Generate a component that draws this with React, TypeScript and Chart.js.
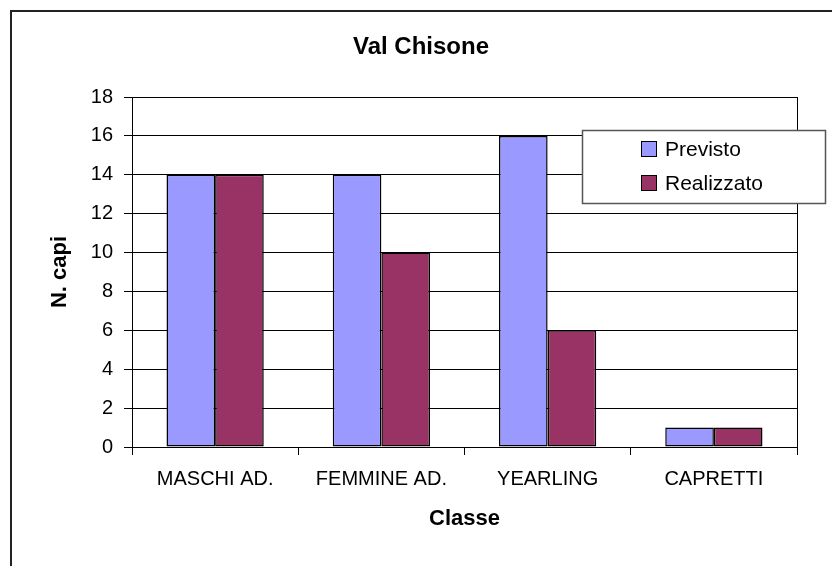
import React, { useEffect, useRef } from "react";
import { Chart, registerables } from "chart.js";

Chart.register(...registerables);

// ---- data ----
const categories = ["MASCHI AD.", "FEMMINE AD.", "YEARLING", "CAPRETTI"];
const previsto = [14, 14, 16, 1];
const realizzato = [14, 10, 6, 1];
const seriesLabels = ["Previsto", "Realizzato"];
const seriesColors = ["#9999FF", "#993366"];
const yMin = 0;
const yMax = 18;
const yStep = 2;
const chartTitle = "Val Chisone";
const xAxisTitle = "Classe";
const yAxisTitle = "N. capi";

const FONT = '"Liberation Sans", Arial, Helvetica, sans-serif';

export default function App() {
  const ref = useRef<HTMLCanvasElement | null>(null);

  useEffect(() => {
    if (!ref.current) return;

    const decor = {
      id: "decor",
      beforeDraw(chart: any) {
        const ctx = chart.ctx;
        ctx.save();
        ctx.fillStyle = "#ffffff";
        ctx.fillRect(0, 0, chart.width, chart.height);
        // outer chart frame (left + top)
        ctx.strokeStyle = "#222222";
        ctx.lineWidth = 2;
        ctx.beginPath();
        ctx.moveTo(11, chart.height);
        ctx.lineTo(11, 11);
        ctx.lineTo(chart.width, 11);
        ctx.stroke();
        ctx.restore();
      },
      afterDraw(chart: any) {
        const ctx = chart.ctx;
        const a = chart.chartArea;
        ctx.save();
        // plot area right border
        ctx.strokeStyle = "#000000";
        ctx.lineWidth = 1;
        ctx.beginPath();
        ctx.moveTo(Math.round(a.right) + 0.5, a.top);
        ctx.lineTo(Math.round(a.right) + 0.5, a.bottom);
        ctx.stroke();

        // title
        ctx.fillStyle = "#000000";
        ctx.textAlign = "center";
        ctx.textBaseline = "middle";
        ctx.font = `bold 24px ${FONT}`;
        ctx.fillText(chartTitle, 421, 47);

        // axis titles
        ctx.font = `bold 22px ${FONT}`;
        ctx.fillText(xAxisTitle, (a.left + a.right) / 2, 519);
        ctx.save();
        ctx.translate(60, (a.top + a.bottom) / 2);
        ctx.rotate(-Math.PI / 2);
        ctx.fillText(yAxisTitle, 0, 0);
        ctx.restore();

        // legend
        const lx = 582, ly = 130, lw = 243, lh = 73;
        ctx.fillStyle = "#ffffff";
        ctx.fillRect(lx, ly, lw, lh);
        ctx.strokeStyle = "#555555";
        ctx.lineWidth = 1.5;
        ctx.strokeRect(lx + 0.5, ly + 0.5, lw, lh);
        ctx.font = `21px ${FONT}`;
        ctx.textAlign = "left";
        ctx.textBaseline = "middle";
        chart.data.datasets.forEach((ds: any, i: number) => {
          const cy = 149 + i * 34;
          ctx.fillStyle = ds.backgroundColor;
          ctx.fillRect(642, cy - 7, 14, 14);
          ctx.strokeStyle = "#000000";
          ctx.lineWidth = 1;
          ctx.strokeRect(641.5, cy - 7.5, 15, 15);
          ctx.fillStyle = "#000000";
          ctx.fillText(ds.label, 665, cy + 1);
        });
        ctx.restore();
      },
    };

    const chart = new Chart(ref.current, {
      type: "bar",
      data: {
        labels: categories,
        datasets: [
          {
            label: seriesLabels[0],
            data: previsto,
            backgroundColor: seriesColors[0],
            borderColor: "#000000",
            borderWidth: 1.5,
            borderSkipped: false,
            categoryPercentage: 0.585,
            barPercentage: 1.0,
          },
          {
            label: seriesLabels[1],
            data: realizzato,
            backgroundColor: seriesColors[1],
            borderColor: "#000000",
            borderWidth: 1.5,
            borderSkipped: false,
            categoryPercentage: 0.585,
            barPercentage: 1.0,
          },
        ],
      },
      options: {
        responsive: false,
        animation: false,
        devicePixelRatio: 1,
        layout: { padding: { left: 0, top: 97, right: 35, bottom: 0 } },
        plugins: {
          legend: { display: false },
          title: { display: false },
          tooltip: { enabled: false },
        },
        scales: {
          x: {
            grid: {
              offset: true,
              drawOnChartArea: false,
              color: "#000000",
              tickLength: 8,
            },
            border: { color: "#000000", width: 1 },
            ticks: {
              font: { family: FONT, size: 20 },
              color: "#000000",
              padding: 12,
              maxRotation: 0,
              autoSkip: false,
            },
            afterFit: (s: any) => {
              s.height = 119;
            },
          },
          y: {
            min: yMin,
            max: yMax,
            ticks: {
              stepSize: yStep,
              font: { family: FONT, size: 20 },
              color: "#000000",
              padding: 11,
            },
            grid: { color: "#000000", tickLength: 8 },
            border: { color: "#000000", width: 1 },
            afterFit: (s: any) => {
              s.width = 132;
            },
          },
        },
      },
      plugins: [decor],
    });

    return () => chart.destroy();
  }, []);

  return (
    <div
      style={{
        position: "absolute",
        left: 0,
        top: 0,
        width: 832,
        height: 566,
        background: "#ffffff",
      }}
    >
      <canvas ref={ref} width={832} height={566} style={{ width: 832, height: 566, display: "block" }} />
    </div>
  );
}
